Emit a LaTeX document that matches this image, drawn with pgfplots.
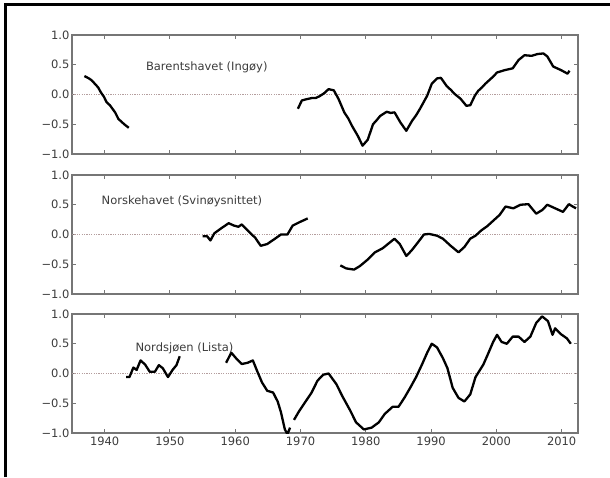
\documentclass[border=0pt]{standalone}
\usepackage{fontspec}
\setmainfont{DejaVu Sans}
\usepackage{pgfplots}
\pgfplotsset{compat=1.18}
\definecolor{axgray}{HTML}{767676}
\definecolor{txtgray}{HTML}{3C3C3C}
\definecolor{zeroline}{HTML}{B49E9E}

\pgfplotsset{
  panel/.style={
    scale only axis,width=506pt,height=119pt,
    xmin=1935,xmax=2012.5,ymin=-1,ymax=1,
    xtick={1940,1950,1960,1970,1980,1990,2000,2010},
    ytick={-1,-0.5,0,0.5,1},
    yticklabels={−1.0,−0.5,0.0,0.5,1.0},
    tick align=inside,tick style={axgray,line width=0.9pt},
    major tick length=4pt,
    axis line style={axgray,line width=2pt},
    tick label style={font=\fontsize{11.5}{12}\selectfont,text=txtgray},
    yticklabel style={xshift=1pt},
    clip=true,
  },
  series/.style={black,line width=2.3pt,line join=round,no marks},
  zero/.style={zeroline,line width=1.6pt,dash pattern=on 1.2pt off 1.2pt},
}

\begin{document}
\begin{tikzpicture}
\path[use as bounding box] (0,0) rectangle (610pt,477pt);
\draw[black,line width=3pt] (5pt,0pt) -- (5pt,472pt) -- (610pt,472pt);

% Barentshavet
\begin{axis}[panel,at={(72pt,323pt)},anchor=south west,xticklabels={}]
\addplot[zero] coordinates {(1935,0) (2012.5,0)};
\addplot[series] coordinates {
(1936.9,0.31) (1937.6,0.27) (1938.0,0.24) (1938.5,0.18) (1939.0,0.12) (1939.4,0.04)
(1939.9,-0.04) (1940.3,-0.13) (1940.8,-0.18) (1941.2,-0.24) (1941.6,-0.30) (1942.1,-0.41)
(1942.6,-0.46) (1943.0,-0.50) (1943.7,-0.56)};
\addplot[series] coordinates {
(1969.6,-0.24) (1970.2,-0.10) (1970.9,-0.08) (1971.7,-0.06) (1972.3,-0.06) (1972.9,-0.03)
(1973.6,0.02) (1974.3,0.09) (1975.1,0.07) (1975.8,-0.07) (1976.7,-0.30) (1977.3,-0.40)
(1977.9,-0.53) (1978.8,-0.70) (1979.5,-0.86) (1980.3,-0.76) (1981.1,-0.50) (1981.6,-0.44)
(1982.2,-0.36) (1983.2,-0.29) (1983.8,-0.31) (1984.4,-0.30) (1985.3,-0.47) (1986.2,-0.61)
(1987.1,-0.44) (1987.7,-0.35) (1988.3,-0.24) (1989.4,-0.02) (1990.1,0.18) (1990.9,0.27)
(1991.5,0.28) (1992.4,0.14) (1993.0,0.08) (1993.6,0.01) (1994.5,-0.07) (1995.4,-0.19)
(1996.0,-0.18) (1996.7,-0.02) (1997.2,0.06) (1997.8,0.12) (1998.3,0.18) (1998.9,0.24)
(1999.5,0.30) (2000.1,0.37) (2001.3,0.41) (2002.5,0.44) (2003.4,0.58) (2004.3,0.66)
(2005.4,0.65) (2006.3,0.68) (2007.2,0.69) (2007.8,0.64) (2008.7,0.47) (2009.9,0.41)
(2010.9,0.35) (2011.2,0.40)};
\node[anchor=west,text=txtgray,font=\fontsize{11.5}{12}\selectfont] at (axis cs:1945.8,0.46) {Barentshavet (Ingøy)};
\end{axis}

% Norskehavet
\begin{axis}[panel,at={(72pt,183pt)},anchor=south west,xticklabels={}]
\addplot[zero] coordinates {(1935,0) (2012.5,0)};
\addplot[series] coordinates {
(1955.0,-0.03) (1955.7,-0.03) (1956.2,-0.10) (1956.8,0.02) (1957.8,0.10) (1959.0,0.19)
(1959.8,0.15) (1960.5,0.13) (1961.0,0.17) (1961.9,0.07) (1963.1,-0.06) (1963.9,-0.19)
(1964.9,-0.16) (1966.1,-0.07) (1967.0,0.0) (1968.0,0.0) (1968.8,0.15) (1969.9,0.21)
(1971.1,0.27)};
\addplot[series] coordinates {
(1976.1,-0.52) (1977.0,-0.57) (1978.2,-0.59) (1979.1,-0.53) (1980.3,-0.42) (1981.4,-0.30)
(1982.6,-0.23) (1983.5,-0.15) (1984.4,-0.07) (1985.2,-0.16) (1986.2,-0.36) (1987.0,-0.27)
(1988.0,-0.13) (1988.9,0.0) (1989.7,0.01) (1990.9,-0.02) (1991.8,-0.07) (1993.0,-0.19)
(1994.2,-0.30) (1995.1,-0.21) (1996.0,-0.07) (1996.8,-0.02) (1997.7,0.07) (1998.6,0.14)
(1999.6,0.24) (2000.5,0.33) (2001.4,0.47) (2002.6,0.44) (2003.7,0.50) (2004.9,0.51)
(2006.1,0.35) (2007.0,0.41) (2007.8,0.50) (2009.0,0.44) (2010.2,0.38) (2011.1,0.51)
(2011.7,0.47) (2012.2,0.44)};
\node[anchor=west,text=txtgray,font=\fontsize{11.5}{12}\selectfont] at (axis cs:1939.0,0.55) {Norskehavet (Svinøysnittet)};
\end{axis}

% Nordsjoen
\begin{axis}[panel,at={(72pt,44pt)},anchor=south west,
  xticklabels={1940,1950,1960,1970,1980,1990,2000,2010}]
\addplot[zero] coordinates {(1935,0) (2012.5,0)};
\addplot[series] coordinates {
(1943.3,-0.06) (1943.8,-0.06) (1944.4,0.10) (1944.9,0.06) (1945.5,0.22) (1946.2,0.15)
(1946.9,0.03) (1947.7,0.03) (1948.3,0.14) (1948.9,0.09) (1949.7,-0.06) (1950.4,0.06)
(1951.0,0.14) (1951.5,0.29)};
\addplot[series] coordinates {
(1958.6,0.18) (1959.4,0.35) (1960.1,0.26) (1961.0,0.16) (1961.9,0.18) (1962.7,0.22)
(1963.4,0.03) (1964.1,-0.15) (1964.9,-0.29) (1965.8,-0.32) (1966.5,-0.47) (1967.0,-0.65)
(1967.6,-0.94) (1968.0,-1.02) (1968.4,-0.91)};
\addplot[series] coordinates {
(1969.0,-0.78) (1969.8,-0.63) (1970.6,-0.50) (1971.7,-0.32) (1972.6,-0.12) (1973.5,-0.02)
(1974.3,0.0) (1974.9,-0.09) (1975.5,-0.18) (1976.4,-0.38) (1977.6,-0.62) (1978.5,-0.82)
(1979.7,-0.94) (1980.9,-0.91) (1982.0,-0.82) (1982.9,-0.68) (1984.1,-0.56) (1985.0,-0.56)
(1985.9,-0.41) (1986.8,-0.24) (1987.7,-0.06) (1988.6,0.15) (1989.4,0.35) (1990.1,0.50)
(1990.9,0.44) (1991.8,0.26) (1992.5,0.09) (1993.3,-0.24) (1994.2,-0.41) (1995.1,-0.47)
(1996.0,-0.35) (1996.8,-0.06) (1998.0,0.15) (1998.8,0.35) (1999.5,0.53) (2000.1,0.65)
(2000.8,0.53) (2001.6,0.50) (2002.5,0.62) (2003.4,0.62) (2004.3,0.53) (2005.2,0.62)
(2006.1,0.85) (2007.0,0.96) (2007.9,0.88) (2008.6,0.65) (2009.0,0.76) (2009.9,0.66)
(2010.8,0.59) (2011.4,0.50)};
\node[anchor=west,text=txtgray,font=\fontsize{11.5}{12}\selectfont] at (axis cs:1944.2,0.42) {Nordsjøen (Lista)};
\end{axis}
\end{tikzpicture}
\end{document}
